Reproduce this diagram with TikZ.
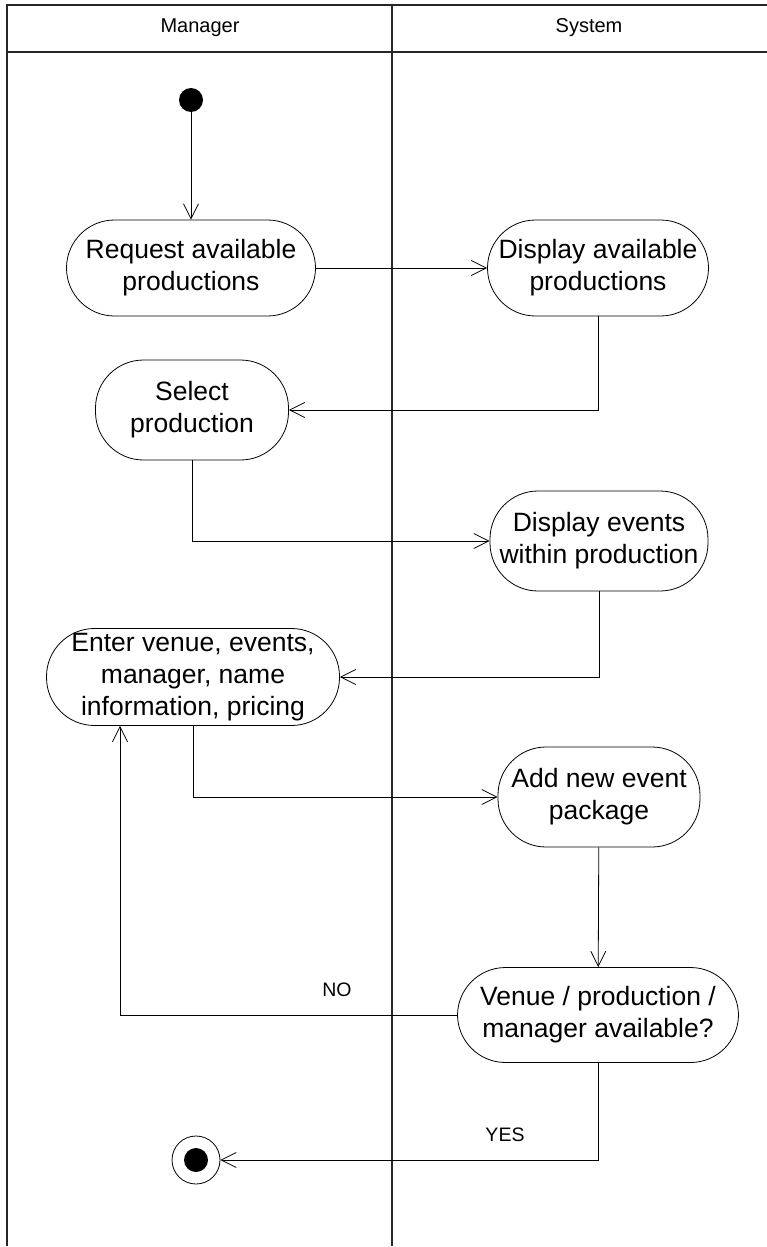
\documentclass[tikz,border=0pt]{standalone}
\usepackage{fontspec}
\setmainfont{Liberation Sans}
\usetikzlibrary{arrows.meta}
\begin{document}
\begin{tikzpicture}[x=1pt,y=-1pt,
  lane/.style={line width=1.8pt,black!85},
  action/.style={draw,line width=0.8pt,rounded corners=48pt,align=center,
    font=\fontsize{26.5}{32}\selectfont,inner sep=0pt},
  flow/.style={draw,line width=0.8pt,-{Straight Barb[length=15pt,width=15pt,line width=0.8pt]}},
  lbl/.style={font=\fontsize{19.5}{22}\selectfont},
  head/.style={font=\fontsize{20}{22}\selectfont}]
  \useasboundingbox (0,0) rectangle (767,1247);
  % swimlane frame
  \draw[lane] (767,5) -- (7,5) -- (7,1246);
  \draw[lane] (7,52) -- (767,52);
  \draw[lane] (392,5) -- (392,1246);
  \node[head] (hm) at (200,28) {Manager};
  \node[head] (hs) at (589,28) {System};
  % initial and final states
  \node[circle,fill=black,minimum size=24pt,inner sep=0pt] (start) at (191,100) {};
  \node[circle,draw,line width=0.8pt,minimum size=48pt,inner sep=0pt] (end) at (196,1160) {};
  \node[circle,fill=black,minimum size=24pt,inner sep=0pt] (endin) at (196,1160) {};
  % actions
  \node[action,minimum width=249pt,minimum height=96pt] (req) at (191,268) {Request available\\productions};
  \node[action,minimum width=221pt,minimum height=96pt] (disp1) at (598,268) {Display available\\productions};
  \node[action,minimum width=193pt,minimum height=100pt] (sel) at (192,410) {Select\\production};
  \node[action,minimum width=218pt,minimum height=100pt] (disp2) at (599,541) {Display events\\within production};
  \node[action,minimum width=293pt,minimum height=97pt] (enter) at (193,677) {Enter venue, events,\\manager, name\\information, pricing};
  \node[action,minimum width=202pt,minimum height=100pt] (add) at (599,797) {Add new event\\package};
  \node[action,minimum width=281pt,minimum height=95pt] (venue) at (598,1015) {Venue / production /\\manager available?};
  \coordinate (noturn) at (120,0);
  % transitions
  \draw[flow] (start) -- (req);
  \draw[flow] (req) -- (disp1);
  \draw[flow] (disp1.south) |- (sel.east);
  \draw[flow] (sel.south) |- (disp2.west);
  \draw[flow] (disp2.south) |- (enter.east);
  \draw[flow] (enter.south) |- (add.west);
  \draw[flow] (add) -- (venue);
  \draw[flow] (venue.west) -| (noturn |- enter.south);
  \draw[flow] (venue.south) |- (end.east);
  \node[lbl] (no) at (337,990) {NO};
  \node[lbl] (yes) at (505,1135) {YES};
\end{tikzpicture}
\end{document}
